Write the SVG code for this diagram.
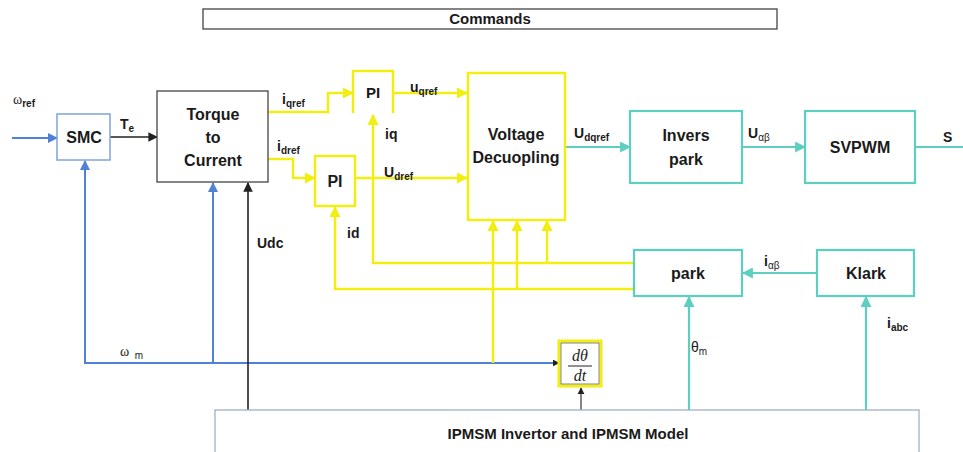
<svg xmlns="http://www.w3.org/2000/svg" width="963" height="452" viewBox="0 0 963 452">
  <style>
    .t { font-family: "Liberation Sans", Arial, sans-serif; font-weight: bold; fill: #1a1a1a; }
    .c { text-anchor: middle; }
    .lbl { font-size: 14px; }
    .sub { font-size: 10px; }
    .box-dark { fill: #fff; stroke: #444; stroke-width: 1.3; }
    .box-teal { fill: #fff; stroke: #5ccfc0; stroke-width: 2.2; }
    .box-yel { fill: #fff; stroke: #f2ee12; stroke-width: 2.5; }
    .ln { fill: none; }
    .blue { stroke: #4f81d6; stroke-width: 2; }
    .yel { stroke: #f2ee12; stroke-width: 2.5; }
    .teal { stroke: #5ccfc0; stroke-width: 2.2; }
    .blk { stroke: #222; stroke-width: 1.6; }
  </style>
  <defs>
    <marker id="aBlue" viewBox="0 0 10 10" refX="9" refY="5" markerWidth="5" markerHeight="5" orient="auto" markerUnits="strokeWidth">
      <path d="M0,0 L10,5 L0,10 z" fill="#4f81d6"/>
    </marker>
    <marker id="aYel" viewBox="0 0 10 10" refX="9" refY="5" markerWidth="4.5" markerHeight="4.5" orient="auto" markerUnits="strokeWidth">
      <path d="M0,0 L10,5 L0,10 z" fill="#f2ee12"/>
    </marker>
    <marker id="aTeal" viewBox="0 0 10 10" refX="9" refY="5" markerWidth="5" markerHeight="5" orient="auto" markerUnits="strokeWidth">
      <path d="M0,0 L10,5 L0,10 z" fill="#5ccfc0"/>
    </marker>
    <marker id="aBlk" viewBox="0 0 10 10" refX="9" refY="5" markerWidth="6" markerHeight="6" orient="auto" markerUnits="strokeWidth">
      <path d="M0,0 L10,5 L0,10 z" fill="#222"/>
    </marker>
    <marker id="aBlkSmall" viewBox="0 0 10 10" refX="9" refY="5" markerWidth="3.5" markerHeight="3.5" orient="auto" markerUnits="strokeWidth">
      <path d="M0,0 L10,5 L0,10 z" fill="#222"/>
    </marker>
  </defs>

  <rect width="963" height="452" fill="#fff"/>

  <!-- Connectors -->
  <g id="connectors">
    <!-- speed loop (blue) -->
    <line class="ln blue" x1="12" y1="138" x2="57" y2="138" marker-end="url(#aBlue)"/>
    <line class="ln blue" x1="85" y1="363" x2="559" y2="363" marker-end="url(#aBlkSmall)"/>
    <line class="ln blue" x1="85" y1="364" x2="85" y2="161" marker-end="url(#aBlue)"/>
    <line class="ln blue" x1="213" y1="363" x2="213" y2="183" marker-end="url(#aBlue)"/>
    <!-- torque and dc link (black) -->
    <line class="ln blk" x1="110" y1="137" x2="157" y2="137" marker-end="url(#aBlk)"/>
    <line class="ln blk" x1="248" y1="410" x2="248" y2="183" marker-end="url(#aBlk)"/>
    <line class="ln" stroke="#333" stroke-width="1.2" x1="581" y1="410" x2="581" y2="388" marker-end="url(#aBlk)"/>
    <!-- current loop (yellow) -->
    <polyline class="ln yel" points="268,112 328,112 328,93 353,93" marker-end="url(#aYel)"/>
    <polyline class="ln yel" points="268,159 293,159 293,178 315,178" marker-end="url(#aYel)"/>
    <line class="ln yel" x1="393" y1="93" x2="467" y2="93" marker-end="url(#aYel)"/>
    <line class="ln yel" x1="355" y1="178" x2="467" y2="178" marker-end="url(#aYel)"/>
    <polyline class="ln yel" points="634,263 373,263 373,115" marker-end="url(#aYel)"/>
    <polyline class="ln yel" points="634,289 335,289 335,207" marker-end="url(#aYel)"/>
    <line class="ln yel" x1="547" y1="263" x2="547" y2="221" marker-end="url(#aYel)"/>
    <line class="ln yel" x1="517" y1="289" x2="517" y2="221" marker-end="url(#aYel)"/>
    <line class="ln yel" x1="493" y1="363" x2="493" y2="221" marker-end="url(#aYel)"/>
    <!-- modulation path (teal) -->
    <line class="ln teal" x1="565" y1="147" x2="630" y2="147" marker-end="url(#aTeal)"/>
    <line class="ln teal" x1="742" y1="147" x2="805" y2="147" marker-end="url(#aTeal)"/>
    <line class="ln teal" x1="915" y1="147" x2="963" y2="147"/>
    <line class="ln teal" x1="817" y1="273" x2="743" y2="273" marker-end="url(#aTeal)"/>
    <line class="ln teal" x1="689" y1="410" x2="689" y2="297" marker-end="url(#aTeal)"/>
    <line class="ln teal" x1="866" y1="410" x2="866" y2="297" marker-end="url(#aTeal)"/>
  </g>

  <!-- Connector labels -->
  <g id="labels" class="t lbl">
    <text x="13" y="104" font-weight="normal" font-family="Liberation Serif, serif">ω<tspan class="sub" font-family="Liberation Sans, sans-serif" font-weight="bold" dy="3">ref</tspan></text>
    <text x="120" y="129">T<tspan class="sub" dy="3">e</tspan></text>
    <text x="282" y="104">i<tspan class="sub" dy="3">qref</tspan></text>
    <text x="277" y="151">i<tspan class="sub" dy="3">dref</tspan></text>
    <text x="410" y="92">u<tspan class="sub" dy="3">qref</tspan></text>
    <text x="384" y="177">U<tspan class="sub" dy="3">dref</tspan></text>
    <text x="385" y="139">iq</text>
    <text x="347" y="238">id</text>
    <text x="257" y="248">Udc</text>
    <text x="574" y="138">U<tspan class="sub" dy="3">dqref</tspan></text>
    <text x="748" y="138">U<tspan class="sub" font-weight="normal" dy="3">αβ</tspan></text>
    <text x="943" y="142">S</text>
    <text x="764" y="266">i<tspan class="sub" font-weight="normal" dy="3">αβ</tspan></text>
    <text x="691" y="352" font-weight="normal">θ<tspan class="sub" dy="3">m</tspan></text>
    <text x="887" y="328">i<tspan class="sub" dy="3">abc</tspan></text>
    <text x="120" y="356" font-weight="normal" font-family="Liberation Serif, serif">ω <tspan class="sub" font-family="Liberation Sans, sans-serif" dx="2" dy="3">m</tspan></text>
  </g>

  <g id="commands">
    <rect x="203" y="9" width="574" height="20" class="box-dark"/>
    <text class="t c" x="490" y="24" font-size="15">Commands</text>
  </g>

  <g id="smc">
    <rect x="57" y="114" width="53" height="46" fill="#fff" stroke="#7ea3dc" stroke-width="1.5"/>
    <text class="t c" x="84" y="143" font-size="16">SMC</text>
  </g>

  <g id="torque-to-current">
    <rect x="157" y="91" width="111" height="91" class="box-dark"/>
    <text class="t c" x="213" y="120" font-size="16">Torque</text>
    <text class="t c" x="213" y="143" font-size="16">to</text>
    <text class="t c" x="213" y="166" font-size="16">Current</text>
  </g>

  <g id="pi-q">
    <path d="M353,113 V71 H393 V113" class="ln yel"/>
    <text class="t c" x="373" y="98" font-size="15">PI</text>
  </g>

  <g id="pi-d">
    <rect x="315" y="156" width="40" height="50" class="box-yel"/>
    <text class="t c" x="335" y="187" font-size="16">PI</text>
  </g>

  <g id="voltage-decoupling">
    <rect x="468" y="73" width="97" height="147" class="box-yel"/>
    <text class="t c" x="516" y="140" font-size="16">Voltage</text>
    <text class="t c" x="516" y="163" font-size="16">Decuopling</text>
  </g>

  <g id="inverse-park">
    <rect x="630" y="111" width="112" height="72" class="box-teal"/>
    <text class="t c" x="686" y="141" font-size="16">Invers</text>
    <text class="t c" x="686" y="165" font-size="16">park</text>
  </g>

  <g id="svpwm">
    <rect x="805" y="111" width="110" height="72" class="box-teal"/>
    <text class="t c" x="860" y="153" font-size="16">SVPWM</text>
  </g>

  <g id="park">
    <rect x="634" y="250" width="108" height="46" class="box-teal"/>
    <text class="t c" x="688" y="279" font-size="16">park</text>
  </g>

  <g id="klark">
    <rect x="817" y="250" width="97" height="46" class="box-teal"/>
    <text class="t c" x="866" y="279" font-size="16">Klark</text>
  </g>

  <g id="derivative">
    <rect x="559" y="341" width="42" height="45" fill="#fff" stroke="#f2ee12" stroke-width="3"/>
    <rect x="561" y="343" width="38" height="41" fill="none" stroke="#333" stroke-width="0.6"/>
    <text x="580" y="361" text-anchor="middle" font-family="Liberation Serif, serif" font-style="italic" font-size="16" fill="#222">dθ</text>
    <line x1="568" y1="366" x2="592" y2="366" stroke="#222" stroke-width="1"/>
    <text x="580" y="381" text-anchor="middle" font-family="Liberation Serif, serif" font-style="italic" font-size="16" fill="#222">dt</text>
  </g>

  <g id="ipmsm-model">
    <rect x="215" y="410" width="704" height="50" fill="#fff" stroke="#9fb0c8" stroke-width="1.3"/>
    <text class="t c" x="568" y="439" font-size="15">IPMSM Invertor and IPMSM Model</text>
  </g>
</svg>
